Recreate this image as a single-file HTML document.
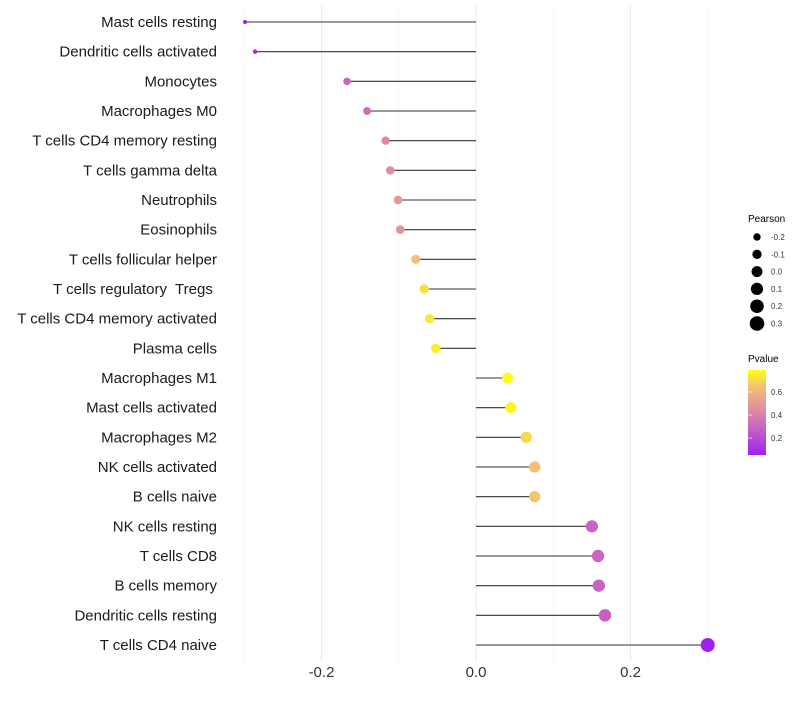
<!DOCTYPE html>
<html><head><meta charset="utf-8"><style>
body{margin:0;background:#fff;font-family:"Liberation Sans",sans-serif}
svg text{font-family:"Liberation Sans",sans-serif;white-space:pre}
</style></head><body>
<svg id="chart" width="800" height="700" viewBox="0 0 800 700">
<defs><linearGradient id="pg" x1="0" y1="1" x2="0" y2="0">
<stop offset="0" stop-color="#a020f0"/><stop offset="0.3" stop-color="#c660c4"/><stop offset="0.55" stop-color="#df90a0"/><stop offset="0.8" stop-color="#f3c074"/><stop offset="1" stop-color="#ffff10"/></linearGradient></defs>
<g id="grid"></g>
<g id="marks"></g>
<g id="ylabels"></g>
<g id="xlabels"></g>
<g id="sizeleg">
<text x="748" y="222" font-size="10" fill="#000">Pearson</text>
</g>
<g>
<text x="748" y="362" font-size="10" fill="#000">Pvalue</text>
<rect x="748" y="370" width="18" height="85" fill="url(#pg)"/>
<g id="cticks"></g>
</g>
</svg>
<script>
const categories=["Mast cells resting","Dendritic cells activated","Monocytes","Macrophages M0","T cells CD4 memory resting","T cells gamma delta","Neutrophils","Eosinophils","T cells follicular helper","T cells regulatory  Tregs ","T cells CD4 memory activated","Plasma cells","Macrophages M1","Mast cells activated","Macrophages M2","NK cells activated","B cells naive","NK cells resting","T cells CD8","B cells memory","Dendritic cells resting","T cells CD4 naive"];
const pearson=[-0.299,-0.286,-0.167,-0.141,-0.117,-0.111,-0.101,-0.098,-0.078,-0.067,-0.060,-0.052,0.041,0.045,0.065,0.076,0.076,0.150,0.158,0.159,0.167,0.300];
const pvalue=[0.06,0.08,0.30,0.35,0.45,0.48,0.52,0.50,0.65,0.72,0.74,0.75,0.78,0.77,0.70,0.65,0.66,0.30,0.30,0.30,0.28,0.06];
const xTicks=[-0.2,0.0,0.2];
const xTickLabels=["-0.2","0.0","0.2"];
const xMinor=[-0.3,-0.1,0.1,0.3];
const sizeLegendVals=[-0.2,-0.1,0.0,0.1,0.2,0.3];
const sizeLegendLabels=["-0.2","-0.1","0.0","0.1","0.2","0.3"];
const colorTicks=[0.2,0.4,0.6];
const colorTickLabels=["0.2","0.4","0.6"];

const NS="http://www.w3.org/2000/svg";
const x=v=>476+v*772.5;
const y=i=>22+i*(623/21);
const rS=v=>Math.sqrt(4+(v+0.3)/0.6*45);
const stops=[[0.06,[160,32,240]],[0.28,[198,96,196]],[0.48,[223,144,160]],[0.65,[243,192,116]],[0.79,[255,255,16]]];
function col(p){
 if(p<=stops[0][0])return "rgb("+stops[0][1]+")";
 for(let i=1;i<stops.length;i++){if(p<=stops[i][0]){const a=stops[i-1],b=stops[i],t=(p-a[0])/(b[0]-a[0]);return "rgb("+a[1].map((c,k)=>Math.round(c+(b[1][k]-c)*t)).join(",")+")";}}
 return "rgb("+stops[stops.length-1][1]+")";}
function mk(tag,at,parent){const e=document.createElementNS(NS,tag);for(const k in at)e.setAttribute(k,at[k]);document.getElementById(parent).appendChild(e);return e;}

xTicks.concat(xMinor).forEach((v,i)=>{
 const l=mk("line",{x1:x(v),x2:x(v),y1:5,y2:662,stroke:i<3?"#ebebeb":"#f4f4f4","stroke-width":i<3?1.1:0.6},"grid");
 
 
});
xTicks.forEach((v,i)=>{
 const t=mk("text",{x:x(v),y:677,"font-size":15,"text-anchor":"middle",fill:"#333"},"xlabels");
 t.textContent=xTickLabels[i];
 
 
});
categories.forEach((c,i)=>{
 const t=mk("text",{x:217,y:y(i)+5,"font-size":15,"text-anchor":"end",fill:"#1a1a1a"},"ylabels");
 t.textContent=c;
 
 
 const s=mk("line",{x1:x(0),x2:x(pearson[i]),y1:y(i),y2:y(i),stroke:"#333","stroke-width":1.1},"marks");
 
 
 const p=mk("circle",{cx:x(pearson[i]),cy:y(i),r:rS(pearson[i]),fill:col(pvalue[i])},"marks");
 
 
});
sizeLegendVals.forEach((v,i)=>{
 const cy=237+i*17.3;
 const c=mk("circle",{cx:757,cy:cy,r:rS(v)+0.3,fill:"#000"},"sizeleg");
 
 
 const t=mk("text",{x:771,y:cy+3,"font-size":8,fill:"#333"},"sizeleg");
 t.textContent=sizeLegendLabels[i];
 
 
});
colorTicks.forEach((v,i)=>{
 const cy=438-(v-0.2)/0.2*23;
 const l=mk("line",{x1:748,x2:752,y1:cy,y2:cy,stroke:"#fff","stroke-width":0.6},"cticks");
 
 
 const t=mk("text",{x:771,y:cy+3,"font-size":8,fill:"#333"},"cticks");
 t.textContent=colorTickLabels[i];
 
 
});
</script>
</body></html>
